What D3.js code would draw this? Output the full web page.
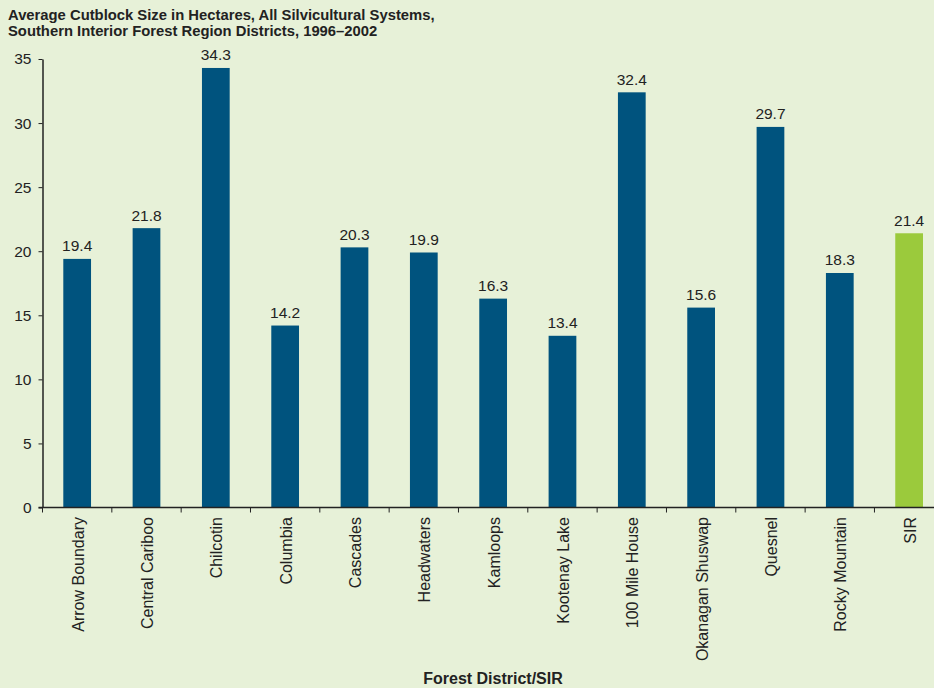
<!DOCTYPE html>
<html><head><meta charset="utf-8">
<script src="https://cdn.jsdelivr.net/npm/d3@7"></script>
<style>body{margin:0;background:#e7f1d8;} svg{display:block;}</style>
</head><body>
<svg id="c" width="934" height="688"></svg>
<script>
const categories = ["Arrow Boundary","Central Cariboo","Chilcotin","Columbia","Cascades","Headwaters","Kamloops","Kootenay Lake","100 Mile House","Okanagan Shuswap","Quesnel","Rocky Mountain","SIR"];
const values = [19.4,21.8,34.3,14.2,20.3,19.9,16.3,13.4,32.4,15.6,29.7,18.3,21.4];
const yTicks = [0,5,10,15,20,25,30,35];
const titleLines = ["Average Cutblock Size in Hectares, All Silvicultural Systems,","Southern Interior Forest Region Districts, 1996\u20132002"];
const xTitle = "Forest District/SIR";

const svg = d3.select("#c");
svg.append("rect").attr("width",934).attr("height",688).attr("fill","#e7f1d8");
const font = "Liberation Sans, Arial, sans-serif";
const x0 = 42.5, y0 = 507.5, yTop = 59;
const x = d3.scaleBand().domain(categories).range([x0, x0 + 13*69.33]).paddingInner(0.6).paddingOuter(0.3);
const y = d3.scaleLinear().domain([0,35]).range([y0, yTop]);

svg.selectAll("text.title").data(titleLines).enter().append("text")
  .attr("x",8).attr("y",(d,i)=>19.5+i*16).attr("font-family",font).attr("font-weight","bold")
  .attr("font-size",14.8).attr("fill","#222").text(d=>d);

// bars
svg.selectAll("rect.bar").data(values).enter().append("rect")
  .attr("x",(d,i)=>x(categories[i])).attr("width",x.bandwidth())
  .attr("y",d=>y(d)).attr("height",d=>y(0)-y(d))
  .attr("fill",(d,i)=>categories[i]==="SIR"?"#9bca3c":"#00537e");

svg.selectAll("text.val").data(values).enter().append("text")
  .attr("x",(d,i)=>x(categories[i])+x.bandwidth()/2).attr("y",d=>y(d)-7.5)
  .attr("text-anchor","middle").attr("font-family",font).attr("font-size",15.5).attr("fill","#222")
  .text(d=>d.toFixed(1));

// y axis
const ya = svg.append("g").attr("transform",`translate(${x0},0)`)
  .call(d3.axisLeft(y).tickValues(yTicks).tickSize(4).tickSizeOuter(0).tickPadding(7));
ya.select(".domain").attr("stroke","#222").attr("stroke-width",1.5);
ya.selectAll(".tick line").attr("stroke","#222");
ya.selectAll("text").attr("font-family",font).attr("font-size",15.5).attr("fill","#222");

// x axis line
svg.append("line").attr("x1",x0-4).attr("x2",934).attr("y1",y0).attr("y2",y0).attr("stroke","#222").attr("stroke-width",1.5);
// boundary ticks
const step = x.step();
const bounds = d3.range(categories.length).map(i => x(categories[i]) - (step - x.bandwidth())/2);
svg.selectAll("line.xt").data(bounds).enter().append("line")
  .attr("x1",d=>d).attr("x2",d=>d).attr("y1",y0).attr("y2",y0+5).attr("stroke","#222");

// x labels
svg.selectAll("text.xl").data(categories).enter().append("text")
  .attr("transform",d=>`translate(${x(d)+x.bandwidth()/2+6.5},${y0+9.5}) rotate(-90)`)
  .attr("text-anchor","end").attr("font-family",font).attr("font-size",16).attr("fill","#222").text(d=>d);

svg.append("text").attr("x",493).attr("y",684).attr("text-anchor","middle")
  .attr("font-family",font).attr("font-weight","bold").attr("font-size",16).attr("fill","#222").text(xTitle);
</script>
</body></html>
